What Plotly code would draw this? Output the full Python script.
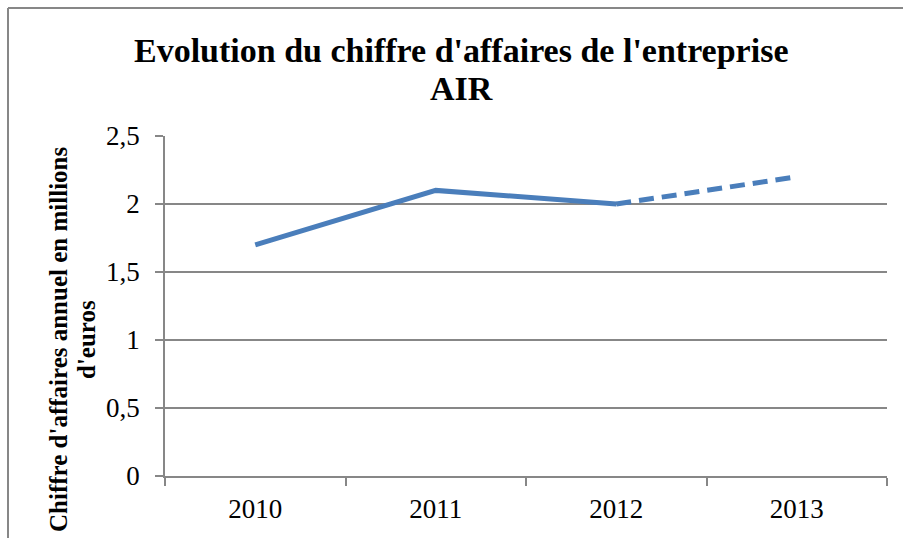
import plotly.graph_objects as go

# Annual revenue (millions of euros); 2013 is a projection
years = ["2010", "2011", "2012", "2013"]
revenue_actual = [1.7, 2.1, 2.0, None]
revenue_forecast = [None, None, 2.0, 2.2]

y_ticks = [0, 0.5, 1, 1.5, 2, 2.5]

title_lines = ["Evolution du chiffre d'affaires de l'entreprise", "AIR"]
ytitle_lines = ["Chiffre d'affaires annuel en millions", "d'euros"]

W, H = 903, 538
L, R, T, B = 165, 16, 136, 62
pw, ph = W - L - R, H - T - B


def px_x(px):
    return (px - L) / pw


def px_y(py):
    return (H - B - py) / ph


blue = "#4A7EBB"
grid = "#878787"
serif = "Liberation Serif, Times New Roman, serif"

fig = go.Figure()
fig.add_trace(go.Scatter(
    x=years, y=revenue_actual, mode="lines",
    line=dict(color=blue, width=5), showlegend=False, hoverinfo="skip",
))
fig.add_trace(go.Scatter(
    x=years, y=revenue_forecast, mode="lines",
    line=dict(color=blue, width=5, dash="15px,8px"), showlegend=False,
    hoverinfo="skip",
))

annotations = []
# chart title, one annotation per line for tight line spacing
for text, cy in zip(title_lines, [50, 88]):
    annotations.append(dict(
        text=f"<b>{text}</b>", xref="paper", yref="paper",
        x=px_x(461), y=px_y(cy), xanchor="center", yanchor="middle",
        showarrow=False, font=dict(size=34, family=serif),
    ))
# vertical axis title, rotated
for text, cx in zip(ytitle_lines, [58, 86]):
    annotations.append(dict(
        text=f"<b>{text}</b>", xref="paper", yref="paper",
        x=px_x(cx), y=px_y(340), xanchor="center", yanchor="middle",
        showarrow=False, textangle=-90, font=dict(size=25, family=serif),
    ))

fig.update_layout(
    width=W, height=H,
    margin=dict(l=L, r=R, t=T, b=B),
    paper_bgcolor="white", plot_bgcolor="white",
    separators=", ",
    font=dict(family=serif, color="black"),
    xaxis=dict(
        type="category", range=[-0.5, 3.5],
        tickson="boundaries", ticks="outside", ticklen=8, tickcolor=grid,
        tickwidth=1.5, showline=True, linecolor=grid, linewidth=1.5,
        showgrid=False, tickfont=dict(size=27), ticklabelstandoff=8,
        fixedrange=True,
    ),
    yaxis=dict(
        range=[0, 2.5], tickvals=y_ticks, ticks="outside", ticklen=8,
        tickcolor=grid, tickwidth=1.5, showline=True, linecolor=grid,
        linewidth=1.5, showgrid=True, gridcolor=grid, gridwidth=1.5,
        zeroline=False, tickfont=dict(size=27), ticklabelstandoff=10,
        fixedrange=True,
    ),
    annotations=annotations,
    shapes=[
        # outer chart frame (top and left edges)
        dict(type="line", xref="paper", yref="paper",
             x0=px_x(8), x1=px_x(W + 5), y0=px_y(8), y1=px_y(8),
             line=dict(color=grid, width=2)),
        dict(type="line", xref="paper", yref="paper",
             x0=px_x(8), x1=px_x(8), y0=px_y(8), y1=px_y(H + 5),
             line=dict(color=grid, width=2)),
    ],
)

fig.write_html("out.html")
